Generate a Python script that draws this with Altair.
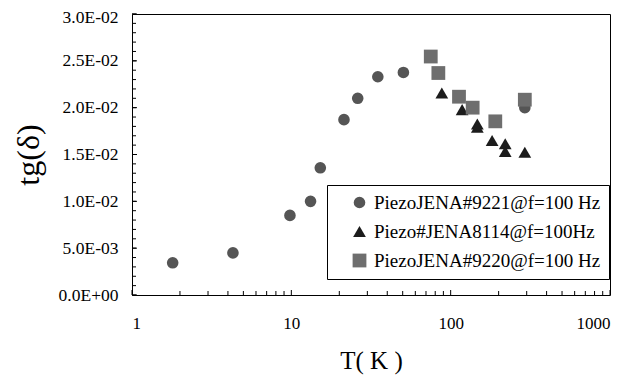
import altair as alt
import pandas as pd

# ---- data ----
SERIES = ["PiezoJENA#9221@f=100 Hz", "Piezo#JENA8114@f=100Hz", "PiezoJENA#9220@f=100 Hz"]

T_9221 = [1.8, 4.3, 9.8, 13.2, 15.2, 21.4, 26.1, 34.9, 50.5, 292]
TG_9221 = [0.00344, 0.0045, 0.0085, 0.0100, 0.01358, 0.01872, 0.0210, 0.0233, 0.02376, 0.0200]

T_8114 = [88, 118, 147, 147, 182, 220, 220, 292]
TG_8114 = [0.02156, 0.01979, 0.01826, 0.0179, 0.01649, 0.01614, 0.01532, 0.01525]

T_9220 = [75, 83.7, 112.8, 137.4, 190.6, 292]
TG_9220 = [0.02546, 0.0237, 0.02117, 0.0200, 0.01854, 0.02085]

Y_TICKS = [0.0, 0.005, 0.01, 0.015, 0.02, 0.025, 0.03]
Y_TICK_LABELS = ["0.0E+00", "5.0E-03", "1.0E-02", "1.5E-02", "2.0E-02", "2.5E-02", "3.0E-02"]
Y_MINOR = [i / 1000 for i in range(0, 31)]
X_TICKS = [1, 10, 100, 1000]
X_MINOR = [m * d for d in (1, 10, 100) for m in range(2, 10)]

COLORS = ["#555555", "#1c1c1c", "#6e6e6e"]
SHAPES = ["circle", "triangle-up", "square"]
SIZES = [135, 190, 150]

rows = []
for name, ts, vs in ((SERIES[0], T_9221, TG_9221), (SERIES[1], T_8114, TG_8114), (SERIES[2], T_9220, TG_9220)):
    for t, v in zip(ts, vs):
        rows.append({"T": t, "tg": v, "series": name})
df = pd.DataFrame(rows)

W, H = 478, 281
FONT = "Liberation Serif"

xscale = alt.Scale(type="log", domain=[1, 1000], nice=False)
yscale = alt.Scale(domain=[0, 0.03], nice=False, zero=False)

label_expr = "[" + ",".join("'%s'" % s for s in Y_TICK_LABELS) + "][round(datum.value*200)]"

xaxis = alt.Axis(values=X_TICKS, format="d", tickSize=0, domain=False, grid=False,
                 labelPadding=20, titlePadding=17, labelFontSize=17, titleFontSize=25,
                 labelFont=FONT, titleFont=FONT, titleFontWeight="normal",
                 labelColor="#000", titleColor="#000")
yaxis = alt.Axis(values=Y_TICKS, labelExpr=label_expr, tickSize=0, domain=False, grid=False,
                 labelPadding=14, titlePadding=13, labelFontSize=17.5, titleFontSize=32,
                 labelOffset={"condition": {"test": "datum.value > 0.029", "value": 3}, "value": 0},
                 labelFont=FONT, titleFont=FONT, titleFontWeight="normal",
                 labelColor="#000", titleColor="#000")
XT = "T( K )"
YT = "tg(δ)"

points = alt.Chart(df).mark_point(filled=True, opacity=1).encode(
    x=alt.X("T:Q", scale=xscale, title=XT, axis=xaxis),
    y=alt.Y("tg:Q", scale=yscale, title=YT, axis=yaxis),
    color=alt.Color("series:N", scale=alt.Scale(domain=SERIES, range=COLORS),
                    legend=alt.Legend(title=None, orient="none", legendX=195, legendY=171,
                                      strokeColor="#000", fillColor="#fff", padding=8,
                                      labelFont=FONT, labelFontSize=19, labelColor="#000",
                                      rowPadding=9, labelOffset=5,
                                      symbolOffset=15, symbolStrokeWidth=0, labelLimit=400)),
    shape=alt.Shape("series:N", scale=alt.Scale(domain=SERIES, range=SHAPES)),
    size=alt.Size("series:N", scale=alt.Scale(domain=SERIES, range=SIZES)),
    order=alt.Order("order:Q"),
).transform_calculate(order="indexof(%s, datum.series)" % str(SERIES))

ymaj = pd.DataFrame({"v": Y_TICKS})
ymin = pd.DataFrame({"v": Y_MINOR})
xmaj = pd.DataFrame({"t": X_TICKS})
xmin = pd.DataFrame({"t": X_MINOR})

ytick_major = alt.Chart(ymaj).mark_rule(color="#000", strokeWidth=1).encode(
    y=alt.Y("v:Q", scale=yscale, title=YT, axis=yaxis), x=alt.value(0), x2=alt.value(5))
ytick_minor = alt.Chart(ymin).mark_rule(color="#000", strokeWidth=1).encode(
    y=alt.Y("v:Q", scale=yscale, title=YT, axis=yaxis), x=alt.value(0), x2=alt.value(4))
xtick_major = alt.Chart(xmaj).mark_rule(color="#000", strokeWidth=1).encode(
    x=alt.X("t:Q", scale=xscale, title=XT, axis=xaxis), y=alt.value(H), y2=alt.value(H - 5))
xtick_minor = alt.Chart(xmin).mark_rule(color="#000", strokeWidth=1).encode(
    x=alt.X("t:Q", scale=xscale, title=XT, axis=xaxis), y=alt.value(H), y2=alt.value(H - 4))

chart = alt.layer(points, ytick_minor, ytick_major, xtick_minor, xtick_major).properties(
    width=W, height=H,
    autosize=alt.AutoSizeParams(type="none"),
    padding={"left": 124, "top": 6, "right": 15, "bottom": 82},
).configure(background="#fff", view=alt.ViewConfig(stroke="#000", strokeWidth=1))

chart.save("out.html", embed_options={"renderer": "svg", "actions": False})
